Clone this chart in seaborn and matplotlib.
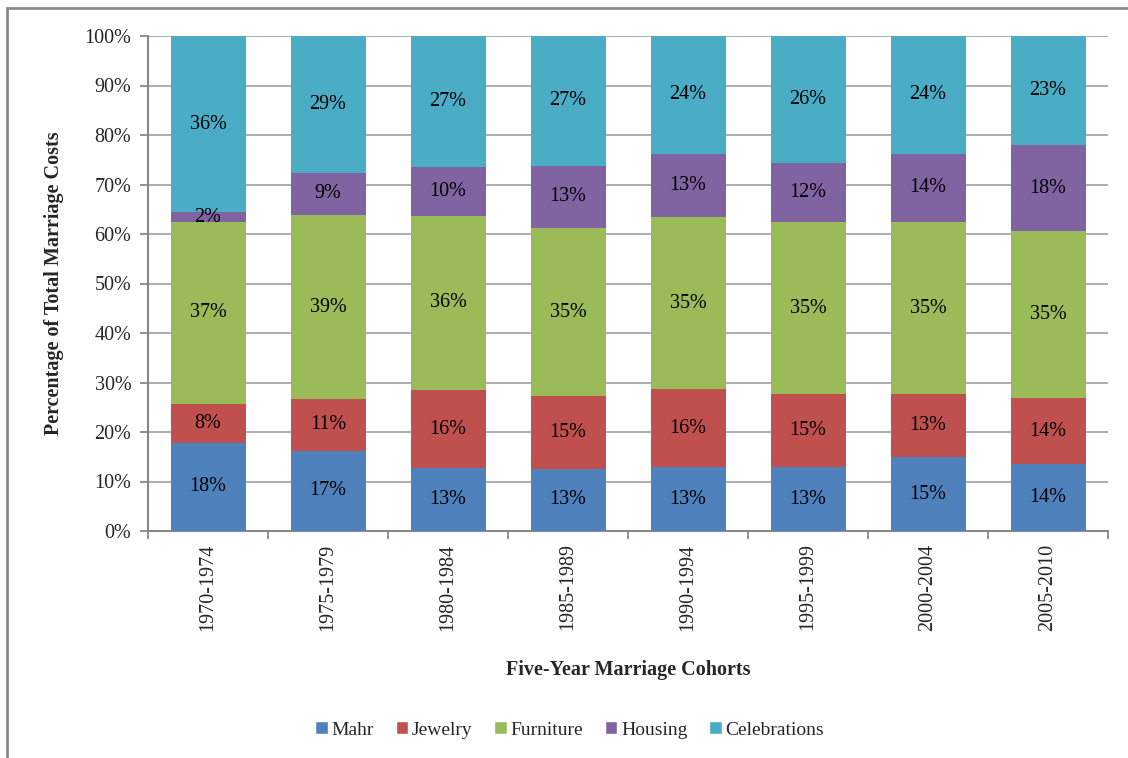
import numpy as np
import pandas as pd
import matplotlib
matplotlib.use("Agg")
import matplotlib.pyplot as plt
import seaborn as sns
from matplotlib.patches import Patch, Rectangle

# data (labels shown on each segment, in %)
cohorts = ["1970-1974", "1975-1979", "1980-1984", "1985-1989",
           "1990-1994", "1995-1999", "2000-2004", "2005-2010"]
categories = ["Mahr", "Jewelry", "Furniture", "Housing", "Celebrations"]
mahr = [18, 17, 13, 13, 13, 13, 15, 14]
jewelry = [8, 11, 16, 15, 16, 15, 13, 14]
furniture = [37, 39, 36, 35, 35, 35, 35, 35]
housing = [2, 9, 10, 13, 13, 12, 14, 18]
celebrations = [36, 29, 27, 27, 24, 26, 24, 23]
colors = ["#4F81BD", "#C0504D", "#9BBB59", "#8064A2", "#4BACC6"]

df = pd.DataFrame({"Mahr": mahr, "Jewelry": jewelry, "Furniture": furniture,
                   "Housing": housing, "Celebrations": celebrations}, index=cohorts)

# 100% stacked: normalise each cohort
share = df.div(df.sum(axis=1), axis=0) * 100
cum = share.cumsum(axis=1)

sns.set_theme(style="white")
plt.rcParams["font.family"] = ["Liberation Serif", "DejaVu Serif"]
fs = 14.5

fig = plt.figure(figsize=(11.28, 7.58), dpi=100)
ax = fig.add_axes([148 / 1128, 1 - 531 / 758, 960 / 1128, 495 / 758])

# draw tallest first so lower segments sit on top
for cat, col in reversed(list(zip(categories, colors))):
    sns.barplot(x=cohorts, y=cum[cat].values, color=col, width=0.625,
                saturation=1, ax=ax, zorder=3, edgecolor="none", linewidth=0)

# segment labels
for i, c in enumerate(cohorts):
    for cat in categories:
        top = cum.loc[c, cat]
        mid = top - share.loc[c, cat] / 2
        ax.text(i, mid, f"{df.loc[c, cat]}%", ha="center", va="center",
                fontsize=fs, color="black", zorder=5)

grey = "#888888"
ax.set_ylim(0, 100)
ax.set_xlim(-0.5, 7.5)
ax.set_yticks(np.arange(0, 101, 10))
ax.set_yticklabels([f"{v}%" for v in range(0, 101, 10)], fontsize=fs)
ax.yaxis.grid(True, color="#a6a6a6", linewidth=1.3, zorder=0)
ax.set_axisbelow(True)
ax.tick_params(axis="y", direction="out", length=6, width=1.3, color=grey,
               left=True, pad=6)
ax.set_xticks(range(len(cohorts)))
ax.set_xticklabels(cohorts, rotation=90, fontsize=fs, va="top")
ax.set_xticks(np.arange(-0.5, 8, 1), minor=True)
ax.tick_params(axis="x", which="major", length=0, pad=9)
ax.tick_params(axis="x", which="minor", direction="out", length=6, width=1.3,
               color=grey, bottom=True)
for s in ["top", "right"]:
    ax.spines[s].set_visible(False)
for s in ["left", "bottom"]:
    ax.spines[s].set_color(grey)
    ax.spines[s].set_linewidth(1.5)

ax.set_ylabel("Percentage of Total Marriage Costs", fontsize=fs,
              fontweight="bold", labelpad=15)
ax.set_xlabel("Five-Year Marriage Cohorts", fontsize=fs,
              fontweight="bold", labelpad=21)

handles = [Patch(facecolor=c, label=l) for l, c in zip(categories, colors)]
fig.legend(handles=handles, loc="center", bbox_to_anchor=(0.505, 1 - 730 / 758),
           ncol=5, frameon=False, fontsize=14, handlelength=0.65,
           handleheight=0.65, handletextpad=0.2, columnspacing=1.1)

# outer chart border
fig.add_artist(Rectangle((7 / 1128, -0.05), 1.2, 1.05 - 8 / 758,
                         transform=fig.transFigure, fill=False,
                         edgecolor="#8a8a8a", linewidth=2))

fig.savefig("out.png", dpi=100)
